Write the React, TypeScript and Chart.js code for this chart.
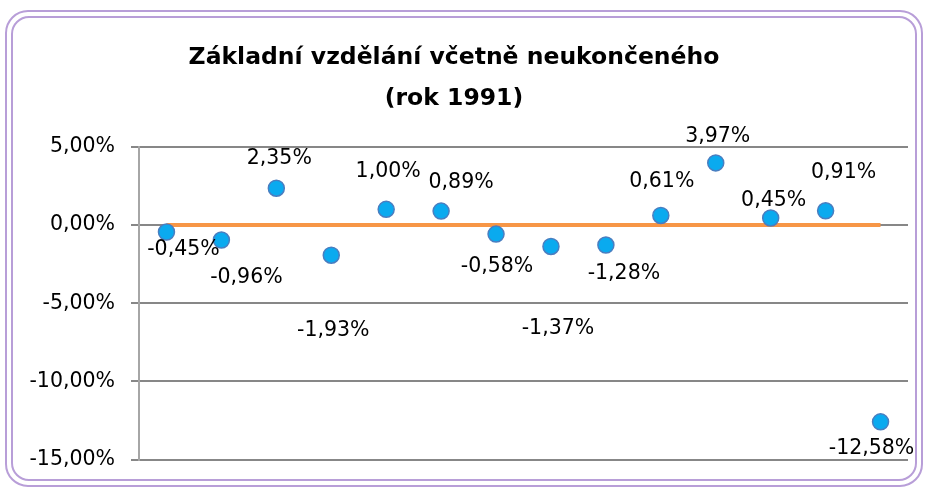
import React, { useEffect, useRef } from "react";
import { Chart, registerables } from "chart.js";

Chart.register(...registerables);

const titleLines = ["Základní vzdělání včetně neukončeného", "(rok 1991)"];
const categories = [
  "Praha", "Středočeský", "Jihočeský", "Plzeňský", "Karlovarský", "Ústecký", "Liberecký",
  "Královéhradecký", "Pardubický", "Vysočina", "Jihomoravský", "Olomoucký", "Zlínský", "Moravskoslezský",
];
const values = [-0.45, -0.96, 2.35, -1.93, 1.0, 0.89, -0.58, -1.37, -1.28, 0.61, 3.97, 0.45, 0.91, -12.58];
const baseline = [0, 0, 0, 0, 0, 0, 0, 0, 0, 0, 0, 0, 0, 0];
const yTicks = [5, 0, -5, -10, -15];
// label offsets (dx, dy) in px relative to each point, as placed in the original
const labelDx = [17, 25, 3, 2, 2, 20, 1, 7, 18, 1, 2, 3, 18, -9];
const labelDy = [18, 38, -30, 75, -38, -28, 33, 82, 29, -34, -26, -17, -38, 27];

const fmt = (v: number) => v.toFixed(2).replace(".", ",") + "%";
const FONT = "'DejaVu Sans', sans-serif";

const borderPlugin = {
  id: "frame",
  beforeDraw(chart: any) {
    const ctx = chart.ctx;
    ctx.save();
    ctx.fillStyle = "#ffffff";
    ctx.fillRect(0, 0, chart.width, chart.height);
    ctx.strokeStyle = "#b89ed8";
    ctx.lineWidth = 2;
    ctx.beginPath();
    ctx.roundRect(6, 11, 916, 475, 22);
    ctx.stroke();
    ctx.beginPath();
    ctx.roundRect(12, 17, 904, 463, 17);
    ctx.stroke();
    ctx.restore();
  },
};

const labelPlugin = {
  id: "pointLabels",
  afterDatasetsDraw(chart: any) {
    const meta = chart.getDatasetMeta(1);
    const ctx = chart.ctx;
    ctx.save();
    ctx.fillStyle = "#000000";
    ctx.font = `20.5px ${FONT}`;
    ctx.textAlign = "center";
    ctx.textBaseline = "middle";
    meta.data.forEach((pt: any, i: number) => {
      ctx.fillText(fmt(values[i]), pt.x + labelDx[i], pt.y + labelDy[i]);
    });
    ctx.restore();
  },
};

export default function App() {
  const ref = useRef<HTMLCanvasElement>(null);
  useEffect(() => {
    if (!ref.current) return;
    const chart = new Chart(ref.current, {
      type: "line",
      data: {
        labels: categories,
        datasets: [
          {
            data: baseline,
            borderColor: "#f79646",
            borderWidth: 4,
            pointRadius: 0,
            fill: false,
            order: 2,
          },
          {
            data: values,
            showLine: false,
            pointRadius: 8,
            pointHoverRadius: 8,
            pointBackgroundColor: "#0aaaef",
            pointBorderColor: "#4a7ec0",
            pointBorderWidth: 1.5,
            order: 1,
          },
        ],
      },
      options: {
        animation: false,
        responsive: false,
        devicePixelRatio: 1,
        layout: { padding: { top: 20, bottom: 25, right: 18, left: 0 } },
        plugins: {
          legend: { display: false },
          tooltip: { enabled: false },
          title: {
            display: true,
            text: titleLines,
            color: "#000000",
            font: { family: FONT, size: 23.5, weight: "bold", lineHeight: 1.74 },
            padding: { top: 17.5, bottom: 27.5 },
          },
        },
        scales: {
          x: {
            type: "category",
            offset: true,
            display: false,
          },
          y: {
            min: -15,
            max: 5,
            afterFit: (scale: any) => {
              scale.width = 139;
            },
            afterBuildTicks: (scale: any) => {
              scale.ticks = yTicks.map((v) => ({ value: v }));
            },
            ticks: {
              color: "#000000",
              font: { family: FONT, size: 20.5 },
              padding: 16,
              callback: (v: any) => fmt(Number(v)),
            },
            grid: {
              color: "#878787",
              lineWidth: 2,
              tickLength: 8,
              drawTicks: true,
            },
            border: { display: true, color: "#a6a6a6", width: 2 },
          },
        },
      },
      plugins: [borderPlugin, labelPlugin],
    });
    return () => chart.destroy();
  }, []);
  return (
    <div style={{ position: "fixed", left: 0, top: 0, width: 926, height: 488 }}>
      <canvas ref={ref} width={926} height={488} />
    </div>
  );
}
